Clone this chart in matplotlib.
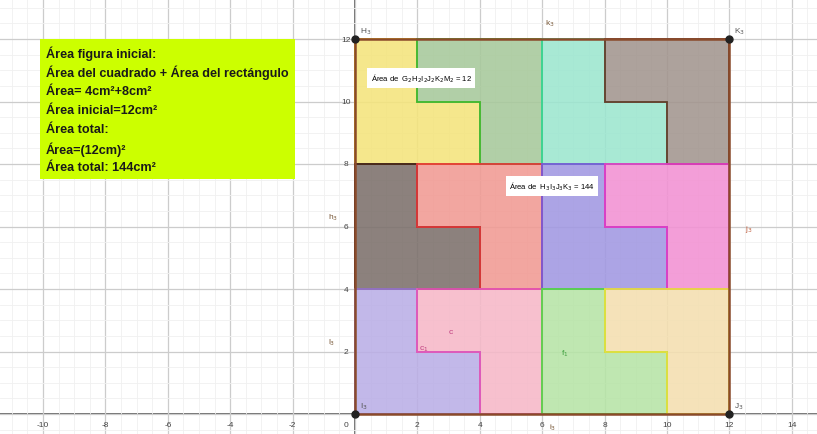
import matplotlib.pyplot as plt
from matplotlib.patches import Polygon, Rectangle
from matplotlib.ticker import MultipleLocator

# piezas en L (area 12 cada una) que llenan el cuadrado de lado 12
piece_names = ['amarillo', 'verde', 'turquesa', 'gris', 'gris_osc', 'salmon',
               'morado', 'rosa', 'lavanda', 'rosa_claro', 'verde_claro', 'trigo']
piece_verts = [
    [(0, 8), (4, 8), (4, 10), (2, 10), (2, 12), (0, 12)],
    [(2, 10), (2, 12), (6, 12), (6, 8), (4, 8), (4, 10)],
    [(6, 8), (10, 8), (10, 10), (8, 10), (8, 12), (6, 12)],
    [(8, 10), (8, 12), (12, 12), (12, 8), (10, 8), (10, 10)],
    [(0, 4), (4, 4), (4, 6), (2, 6), (2, 8), (0, 8)],
    [(2, 6), (2, 8), (6, 8), (6, 4), (4, 4), (4, 6)],
    [(6, 4), (10, 4), (10, 6), (8, 6), (8, 8), (6, 8)],
    [(8, 6), (8, 8), (12, 8), (12, 4), (10, 4), (10, 6)],
    [(0, 0), (4, 0), (4, 2), (2, 2), (2, 4), (0, 4)],
    [(2, 2), (2, 4), (6, 4), (6, 0), (4, 0), (4, 2)],
    [(6, 0), (10, 0), (10, 2), (8, 2), (8, 4), (6, 4)],
    [(8, 2), (8, 4), (12, 4), (12, 0), (10, 0), (10, 2)],
]
face_cols = ['#f4e47c', '#a7c99b', '#9ce6cf', '#a2958e', '#7c706b', '#f19a93',
             '#a198e2', '#f291d3', '#baaee6', '#f6b8c8', '#b6e4a6', '#f4dfb0']
edge_cols = ['#f2c318', '#38b838', '#3fd69a', '#6a3a2a', '#3a1c1c', '#e23a3a',
             '#7a5ad8', '#e23ec4', '#9a7ad0', '#e458b8', '#58d848', '#e8e040']

square_side = 12
vertices = {'H$_3$': (0, 12), 'K$_3$': (12, 12), 'J$_3$': (12, 0), 'I$_3$': (0, 0)}

info_lines = ['Área figura inicial:',
              'Área del cuadrado + Área del rectángulo',
              'Área= 4cm²+8cm²',
              'Área inicial=12cm²',
              'Área total:',
              'Área=(12cm)²',
              'Área total: 144cm²']

xticks = [-10, -8, -6, -4, -2, 2, 4, 6, 8, 10, 12, 14]
yticks = [2, 4, 6, 8, 10, 12]

plt.rcParams['font.family'] = ['Liberation Sans', 'DejaVu Sans']

fig = plt.figure(figsize=(8.17, 4.35), dpi=100)
ax = fig.add_axes([0, 0, 1, 1])
ax.set_xlim(-11.38, 14.81)
ax.set_ylim(-0.64, 13.28)

# cuadricula estilo GeoGebra
ax.xaxis.set_major_locator(MultipleLocator(2))
ax.yaxis.set_major_locator(MultipleLocator(2))
ax.xaxis.set_minor_locator(MultipleLocator(0.5))
ax.yaxis.set_minor_locator(MultipleLocator(0.5))
ax.grid(which='major', color='#cccccc', lw=0.9, zorder=0)
ax.grid(which='minor', color='#f0f0f0', lw=0.6, zorder=0)
ax.tick_params(which='both', length=0, labelbottom=False, labelleft=False)
for s in ax.spines.values():
    s.set_visible(False)
ax.axhline(0, color='#555555', lw=1.2, zorder=1)
ax.axvline(0, color='#555555', lw=1.2, zorder=1)
for t in xticks:
    ax.text(t, -0.35, str(t), ha='center', va='center', fontsize=6, color='#444444')
for t in yticks:
    ax.text(-0.3, t, str(t), ha='center', va='center', fontsize=6, color='#444444')
ax.text(-0.3, -0.35, '0', ha='center', va='center', fontsize=6, color='#444444')

# piezas
for verts, fc, ec in zip(piece_verts, face_cols, edge_cols):
    ax.add_patch(Polygon(verts, closed=True, facecolor=fc, edgecolor='none',
                         alpha=0.88, zorder=2))
for verts, fc, ec in zip(piece_verts, face_cols, edge_cols):
    ax.add_patch(Polygon(verts, closed=True, facecolor='none', edgecolor=ec,
                         lw=1.3, zorder=3))

# contorno del cuadrado
ax.add_patch(Rectangle((0, 0), square_side, square_side, fill=False,
                       edgecolor='#8a4a2a', lw=1.8, zorder=4))
for name, (px, py) in vertices.items():
    ax.plot(px, py, 'o', color='#222222', ms=5, zorder=5)
    ax.text(px + 0.15, py + 0.2, name, fontsize=6, color='#555555', zorder=5)

# etiquetas de los lados
ax.text(6.1, 12.45, 'k$_3$', fontsize=6, color='#7a5a3a', zorder=5)
ax.text(-0.85, 6.25, 'h$_3$', fontsize=6, color='#7a5a3a', zorder=5)
ax.text(12.5, 5.9, 'j$_3$', fontsize=6, color='#c06040', zorder=5)
ax.text(6.22, -0.42, 'i$_3$', fontsize=6, color='#7a5a3a', va='center', zorder=5)
ax.text(-0.85, 2.25, 'l$_3$', fontsize=6, color='#7a5a3a', zorder=5)
ax.text(3.0, 2.6, 'c', fontsize=6, color='#c04080', zorder=5)
ax.text(2.05, 2.05, 'c$_1$', fontsize=6, color='#c04080', zorder=5)
ax.text(6.6, 1.9, 'f$_1$', fontsize=6, color='#40a040', zorder=5)

# cajas de area
box = dict(facecolor='white', edgecolor='none', pad=2.5)
ax.text(0.5, 10.75, 'Área de  G$_2$H$_2$I$_2$J$_2$K$_2$M$_2$ = 12', fontsize=5.5,
        va='center', bbox=box, zorder=6)
ax.text(4.95, 7.3, 'Área de  H$_3$I$_3$J$_3$K$_3$ = 144', fontsize=5.5,
        va='center', bbox=box, zorder=6)

# recuadro verde con el texto
ax.add_patch(Rectangle((-10.1, 7.52), 8.18, 4.48, facecolor='#ccff00',
                       edgecolor='none', zorder=6))
for i, line in enumerate(info_lines):
    ax.text(-9.9, 11.55 - i * 0.61, line, fontsize=9.1, fontweight='bold',
            va='center', color='#1a1a1a', zorder=7)

fig.savefig('out.png', dpi=100)
